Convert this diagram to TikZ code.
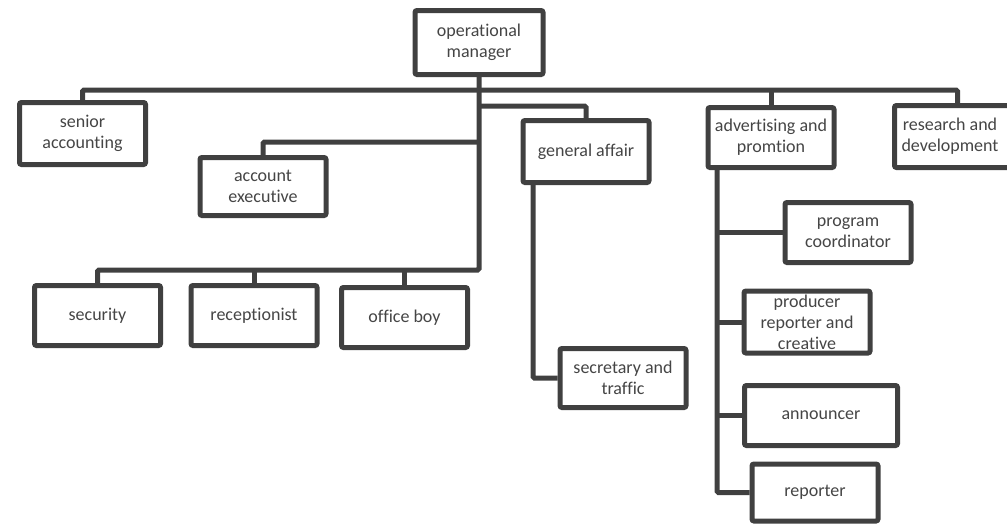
\documentclass[tikz,border=0pt]{standalone}
\usepackage{fontspec}
\setmainfont{Carlito}[Ligatures={NoCommon,NoContextual}]
\definecolor{lc}{HTML}{404040}
\definecolor{tc}{HTML}{454545}
\begin{document}
\begin{tikzpicture}[x=1pt,y=-1pt,
  box/.style={draw=lc, line width=5pt, rounded corners=2pt, fill=white,
    minimum width=126pt, minimum height=60pt, inner sep=1pt, align=center,
    text=tc, font=\fontsize{18}{21}\selectfont},
  txt/.style={align=center, text=tc, font=\fontsize{18}{21}\selectfont, inner sep=0pt},
  conn/.style={draw=lc, line width=5pt, rounded corners=1.5pt}]
\useasboundingbox (0,0) rectangle (1007,528);
% nodes
\node[box, minimum width=128pt, minimum height=64pt] (mgr) at (479,42.5) {operational\\manager};
\node[box, minimum height=62pt] (senior) at (82.5,133.5) {senior\\accounting};
\node[box, minimum height=58pt] (acctexec) at (263,186.5) {account\\executive};
\node[box] (security) at (97.5,315.5) {security};
\node[box] (receptionist) at (254,315.5) {receptionist};
\node[box] (officeboy) at (404.5,317.5) {office boy};
\node[box, minimum height=62pt] (genaff) at (586,151.5) {general affair};
\node[box, minimum height=59pt] (secretary) at (623,378) {secretary and\\traffic};
\node[box] (adv) at (771,137.5) {advertising and\\promtion};
\node[box, minimum height=62pt] (research) at (957.5,136.5) {};
\node[txt] (researcht) at (950,136.5) {research and\\development};
\node[box] (pc) at (848,232.5) {program\\coordinator};
\node[box, minimum height=62pt, inner sep=0pt] (producer) at (807,322) {producer\\reporter and\\creative};
\node[box, minimum width=153pt] (announcer) at (821,415.5) {announcer};
\node[box, minimum height=57pt] (reporter) at (815,492.5) {reporter};
% junction coordinates
\coordinate (jTop) at (479,90);
\coordinate (jGA) at (479,106);
\coordinate (jAE) at (479,142);
\coordinate (jBot) at (479,270);
\coordinate (gaL) at (533,0);
\coordinate (advL) at (717,0);
% connectors
\draw[conn] (mgr.south) -- (jBot) -| (security.north);
\draw[conn] (receptionist.north) -- (receptionist.north |- jBot);
\draw[conn] (officeboy.north) -- (officeboy.north |- jBot);
\draw[conn] (senior.north) |- (jTop) -| (research.north);
\draw[conn] (adv.north) -- (adv.north |- jTop);
\draw[conn] (jGA) -| (genaff.north);
\draw[conn] (jAE) -| (acctexec.north);
\draw[conn] (genaff.south -| gaL) |- (secretary.west);
\draw[conn] (adv.south -| advL) |- (reporter.west);
\draw[conn] (pc.west) -- (pc.west -| advL);
\draw[conn] (producer.west) -- (producer.west -| advL);
\draw[conn] (announcer.west) -- (announcer.west -| advL);
\end{tikzpicture}
\end{document}
